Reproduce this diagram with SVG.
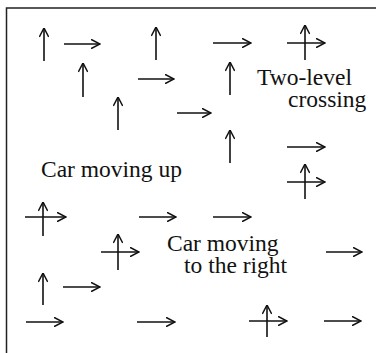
<svg xmlns="http://www.w3.org/2000/svg" width="378" height="353" viewBox="0 0 378 353">
<defs>
<marker id="head" viewBox="0 0 10 10" refX="9.5" refY="5" markerWidth="10" markerHeight="10" markerUnits="userSpaceOnUse" orient="auto">
<path d="M0.5,0.3 L9.5,5 L0.5,9.7" fill="none" stroke="#111" stroke-width="1.5"/>
</marker>
<style>
.a{stroke:#111;stroke-width:1.6;fill:none;marker-end:url(#head)}
.t{font-family:"Liberation Serif","Times New Roman",serif;font-size:23.5px;fill:#111}
.frame{stroke:#222;stroke-width:1.5;fill:none}
</style>
</defs>
<rect width="378" height="353" fill="#fff"/>
<path class="frame" d="M6.5,353 V8 H376"/>
<g id="connectors">
<g id="up-cars">
<line class="a" x1="44" y1="61" x2="44" y2="28"/>
<line class="a" x1="156" y1="60" x2="156" y2="27"/>
<line class="a" x1="83" y1="97" x2="83" y2="63"/>
<line class="a" x1="118" y1="130" x2="118" y2="97"/>
<line class="a" x1="230" y1="95" x2="230" y2="62"/>
<line class="a" x1="230" y1="163" x2="230" y2="130"/>
<line class="a" x1="43" y1="305" x2="43" y2="273"/>
</g>
<g id="right-cars">
<line class="a" x1="64" y1="44" x2="100" y2="44"/>
<line class="a" x1="213" y1="43" x2="251" y2="43"/>
<line class="a" x1="138" y1="79" x2="174" y2="79"/>
<line class="a" x1="177" y1="113" x2="211" y2="113"/>
<line class="a" x1="287" y1="147" x2="325" y2="147"/>
<line class="a" x1="139" y1="217" x2="176" y2="217"/>
<line class="a" x1="213" y1="217" x2="251" y2="217"/>
<line class="a" x1="326" y1="252" x2="362" y2="252"/>
<line class="a" x1="63" y1="287" x2="100" y2="287"/>
<line class="a" x1="26" y1="322" x2="63" y2="322"/>
<line class="a" x1="137" y1="322" x2="175" y2="322"/>
<line class="a" x1="324" y1="321" x2="361" y2="321"/>
</g>
<g id="crossings">
<line class="a" x1="305" y1="60" x2="305" y2="25"/>
<line class="a" x1="287" y1="43" x2="325" y2="43"/>
<line class="a" x1="305" y1="199" x2="305" y2="164"/>
<line class="a" x1="287" y1="182" x2="325" y2="182"/>
<line class="a" x1="43" y1="236" x2="43" y2="202"/>
<line class="a" x1="25" y1="217" x2="66" y2="217"/>
<line class="a" x1="118" y1="270" x2="118" y2="234"/>
<line class="a" x1="101" y1="252" x2="139" y2="252"/>
<line class="a" x1="267" y1="337" x2="267" y2="305"/>
<line class="a" x1="249" y1="321" x2="287" y2="321"/>
</g>
</g>
<g id="label-two-level">
<text class="t" x="257" y="85">Two-level</text>
<text class="t" x="288" y="107">crossing</text>
</g>
<g id="label-up">
<text class="t" x="41" y="177">Car moving up</text>
</g>
<g id="label-right">
<text class="t" x="167" y="251">Car moving</text>
<text class="t" x="184" y="273">to the right</text>
</g>
</svg>
